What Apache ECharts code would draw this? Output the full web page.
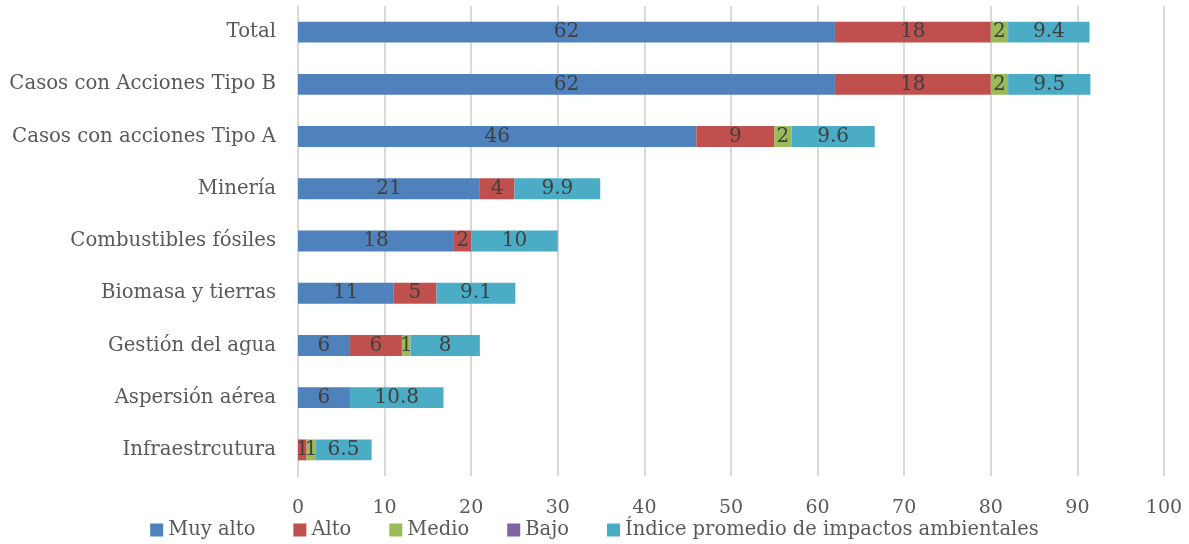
<!DOCTYPE html>
<html>
<head>
<meta charset="utf-8">
<script src="https://cdn.jsdelivr.net/npm/echarts@6/dist/echarts.min.js"></script>
<style>
  html, body { margin: 0; padding: 0; background: #fff; }
  #chart { width: 1189px; height: 544px; }
</style>
</head>
<body>
<div id="chart"></div>
<script>
// Categories listed bottom-to-top (category axis grows upward)
const categories = [
  'Infraestrcutura',
  'Aspersión aérea',
  'Gestión del agua',
  'Biomasa y tierras',
  'Combustibles fósiles',
  'Minería',
  'Casos con acciones Tipo A',
  'Casos con Acciones Tipo B',
  'Total'
];
const muyAlto = [0, 6, 6, 11, 18, 21, 46, 62, 62];
const alto    = [1, 0, 6, 5, 2, 4, 9, 18, 18];
const medio   = [1, 0, 1, 0, 0, 0, 2, 2, 2];
const bajo    = [0, 0, 0, 0, 0, 0, 0, 0, 0];
const indice  = [6.5, 10.8, 8, 9.1, 10, 9.9, 9.6, 9.5, 9.4];
const xTicks  = [0, 10, 20, 30, 40, 50, 60, 70, 80, 90, 100];

const FONT = 'DejaVu Serif';
const AXIS_TEXT = '#595959';
const LABEL_TEXT = '#404040';

function stackSeries(name, data, color) {
  return {
    name: name,
    type: 'bar',
    stack: 'total',
    data: data,
    barWidth: '40%',
    itemStyle: { color: color },
    label: {
      show: true,
      position: 'inside',
      color: LABEL_TEXT,
      fontFamily: FONT,
      fontSize: 20,
      formatter: p => (p.value === 0 ? '' : String(p.value))
    }
  };
}

const chart = echarts.init(document.getElementById('chart'));
chart.setOption({
  animation: false,
  textStyle: { fontFamily: FONT },
  grid: { left: 298, right: 25, top: 6, bottom: 68 },
  xAxis: {
    type: 'value',
    min: xTicks[0],
    max: xTicks[xTicks.length - 1],
    interval: 10,
    axisLine: { show: false },
    axisTick: { show: false },
    splitLine: { lineStyle: { color: '#d9d9d9', width: 2 } },
    axisLabel: { color: AXIS_TEXT, fontFamily: FONT, fontSize: 19, margin: 23 }
  },
  yAxis: {
    type: 'category',
    data: categories,
    axisLine: { show: true, lineStyle: { color: '#d9d9d9', width: 2 } },
    axisTick: { show: false },
    axisLabel: { color: AXIS_TEXT, fontFamily: FONT, fontSize: 19.7, margin: 22 }
  },
  legend: {
    bottom: -1,
    left: 'center',
    itemWidth: 13,
    itemHeight: 13,
    itemGap: 38,
    icon: 'rect',
    textStyle: { color: AXIS_TEXT, fontFamily: FONT, fontSize: 19.5 },
    data: ['Muy alto', 'Alto', 'Medio', 'Bajo', 'Índice promedio de impactos ambientales']
  },
  series: [
    stackSeries('Muy alto', muyAlto, '#4F81BD'),
    stackSeries('Alto', alto, '#C0504D'),
    stackSeries('Medio', medio, '#9BBB59'),
    stackSeries('Bajo', bajo, '#8064A2'),
    stackSeries('Índice promedio de impactos ambientales', indice, '#4BACC6')
  ]
});
</script>
</body>
</html>
